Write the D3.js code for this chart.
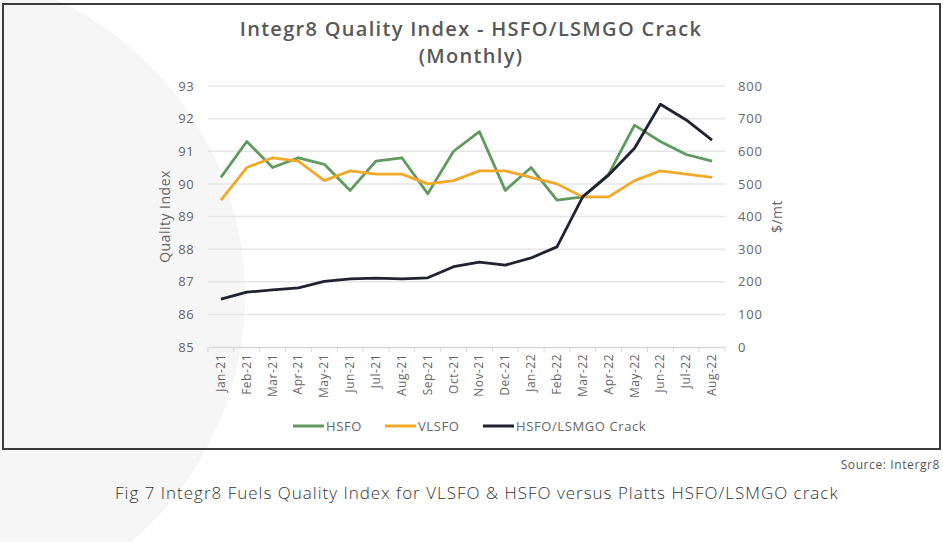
<!DOCTYPE html>
<html>
<head>
<meta charset="utf-8">
<script src="https://cdn.jsdelivr.net/npm/d3@7"></script>
<style>
  body { margin: 0; background: #fff; }
  svg { display: block; font-family: "Open Sans", sans-serif; }
</style>
</head>
<body>
<div id="chart"></div>
<script>
const months = ["Jan-21", "Feb-21", "Mar-21", "Apr-21", "May-21", "Jun-21", "Jul-21", "Aug-21",
  "Sep-21", "Oct-21", "Nov-21", "Dec-21", "Jan-22", "Feb-22", "Mar-22", "Apr-22",
  "May-22", "Jun-22", "Jul-22", "Aug-22"];
const hsfo = [90.2, 91.3, 90.5, 90.8, 90.6, 89.8, 90.7, 90.8, 89.7, 91.0,
  91.6, 89.8, 90.5, 89.5, 89.6, 90.3, 91.8, 91.3, 90.9, 90.7];
const vlsfo = [89.5, 90.5, 90.8, 90.7, 90.1, 90.4, 90.3, 90.3, 90.0, 90.1,
  90.4, 90.4, 90.2, 90.0, 89.6, 89.6, 90.1, 90.4, 90.3, 90.2];
const crack = [147, 168, 175, 181, 201, 209, 211, 209, 212, 246,
  260, 251, 273, 307, 461, 527, 609, 744, 696, 634];
const leftTicks = [85, 86, 87, 88, 89, 90, 91, 92, 93];
const rightTicks = [0, 100, 200, 300, 400, 500, 600, 700, 800];

const W = 943, H = 542;
const plot = {left: 208, right: 725, top: 86, bottom: 347};
const colors = {hsfo: "#619a5e", vlsfo: "#f1a92a", crack: "#1f2230"};
const textGray = "#666";

const svg = d3.select("#chart").append("svg")
  .attr("width", W).attr("height", H);

// faint decorative circle in the background
svg.append("circle")
  .attr("cx", -80).attr("cy", 295).attr("r", 325)
  .style("fill", "#f6f6f6");

// frame around the chart
svg.append("rect")
  .attr("x", 3).attr("y", 4).attr("width", 937).attr("height", 445)
  .style("fill", "none").style("stroke", "#3b3b3b").style("stroke-width", 2);

const x = d3.scaleBand().domain(months).range([plot.left, plot.right]);
const yL = d3.scaleLinear().domain([85, 93]).range([plot.bottom, plot.top]);
const yR = d3.scaleLinear().domain([0, 800]).range([plot.bottom, plot.top]);

// gridlines
svg.append("g")
  .selectAll("line").data(leftTicks.slice(1)).enter().append("line")
  .attr("x1", plot.left).attr("x2", plot.right)
  .attr("y1", d => yL(d)).attr("y2", d => yL(d))
  .style("stroke", "#e6e6e6").style("stroke-width", 1.5);

// left axis
const gL = svg.append("g")
  .attr("transform", `translate(${plot.left - 14},0)`)
  .call(d3.axisLeft(yL).tickValues(leftTicks).tickSize(0).tickPadding(0));
gL.select(".domain").remove();
gL.selectAll("text").style("fill", textGray).style("font-size", "13px")
  .style("font-family", "Open Sans").style("letter-spacing", "0.4px");

// right axis
const gR = svg.append("g")
  .attr("transform", `translate(${plot.right + 13},0)`)
  .call(d3.axisRight(yR).tickValues(rightTicks).tickSize(0).tickPadding(0));
gR.select(".domain").remove();
gR.selectAll("text").style("fill", textGray).style("font-size", "13px")
  .style("font-family", "Open Sans").style("letter-spacing", "0.8px");

// x axis
const gX = svg.append("g")
  .attr("transform", `translate(0,${plot.bottom})`)
  .call(d3.axisBottom(x).tickSize(0).tickPadding(0));
gX.select(".domain").style("stroke", "#d9d9d9").style("stroke-width", 1.5);
gX.selectAll(".tick text")
  .attr("transform", "translate(4,7)rotate(-90)")
  .attr("dy", 0)
  .style("text-anchor", "end")
  .style("fill", textGray).style("font-size", "12px")
  .style("font-family", "Open Sans").style("letter-spacing", "0.5px");
// small tick marks between categories
svg.append("g")
  .selectAll("line").data(months.concat(["end"])).enter().append("line")
  .attr("x1", (d, i) => plot.left + i * x.step())
  .attr("x2", (d, i) => plot.left + i * x.step())
  .attr("y1", plot.bottom).attr("y2", plot.bottom + 5)
  .style("stroke", "#d9d9d9").style("stroke-width", 1);

// lines
const cx = (d, i) => x(months[i]) + x.bandwidth() / 2;
const lineL = d3.line().x(cx).y(d => yL(d));
const lineR = d3.line().x(cx).y(d => yR(d));

[[hsfo, colors.hsfo], [vlsfo, colors.vlsfo]].forEach(([vals, c]) => {
  svg.append("path").attr("d", lineL(vals))
    .style("fill", "none").style("stroke", c).style("stroke-width", 2.8)
    .style("stroke-linejoin", "round");
});
svg.append("path").attr("d", lineR(crack))
  .style("fill", "none").style("stroke", colors.crack).style("stroke-width", 2.8)
  .style("stroke-linejoin", "round");

// axis titles
svg.append("text")
  .attr("transform", `translate(170,${(plot.top + plot.bottom) / 2})rotate(-90)`)
  .attr("text-anchor", "middle")
  .style("fill", textGray).style("font-size", "14px").style("letter-spacing", "0.5px")
  .text("Quality Index");
svg.append("text")
  .attr("transform", `translate(782,${(plot.top + plot.bottom) / 2})rotate(-90)`)
  .attr("text-anchor", "middle")
  .style("fill", textGray).style("font-size", "14px").style("letter-spacing", "0.5px")
  .text("$/mt");

// title
svg.append("text")
  .attr("x", 471).attr("y", 36)
  .attr("text-anchor", "middle")
  .style("fill", "#585858").style("font-size", "20px").style("font-weight", 600)
  .style("letter-spacing", "1.3px")
  .text("Integr8 Quality Index - HSFO/LSMGO Crack");
svg.append("text")
  .attr("x", 471).attr("y", 63)
  .attr("text-anchor", "middle")
  .style("fill", "#585858").style("font-size", "20px").style("font-weight", 600)
  .style("letter-spacing", "1.3px")
  .text("(Monthly)");

// legend
const legend = [
  {name: "HSFO", color: colors.hsfo, x: 293},
  {name: "VLSFO", color: colors.vlsfo, x: 385},
  {name: "HSFO/LSMGO Crack", color: colors.crack, x: 483}
];
const lg = svg.append("g").selectAll("g").data(legend).enter().append("g")
  .attr("transform", d => `translate(${d.x},426)`);
lg.append("line").attr("x1", 0).attr("x2", 31)
  .style("stroke", d => d.color).style("stroke-width", 3);
lg.append("text").attr("x", 33).attr("dy", "0.35em")
  .style("fill", textGray).style("font-size", "13px").style("letter-spacing", "0.6px")
  .text(d => d.name);

// source and caption
svg.append("text")
  .attr("x", 940).attr("y", 469)
  .attr("text-anchor", "end")
  .style("fill", "#555").style("font-size", "12px").style("letter-spacing", "0.6px")
  .text("Source: Intergr8");
svg.append("text")
  .attr("x", 115).attr("y", 499)
  .style("fill", "#333").style("font-size", "17px").style("font-weight", 300)
  .style("letter-spacing", "1px")
  .text("Fig 7 Integr8 Fuels Quality Index for VLSFO & HSFO versus Platts HSFO/LSMGO crack");
</script>
</body>
</html>
